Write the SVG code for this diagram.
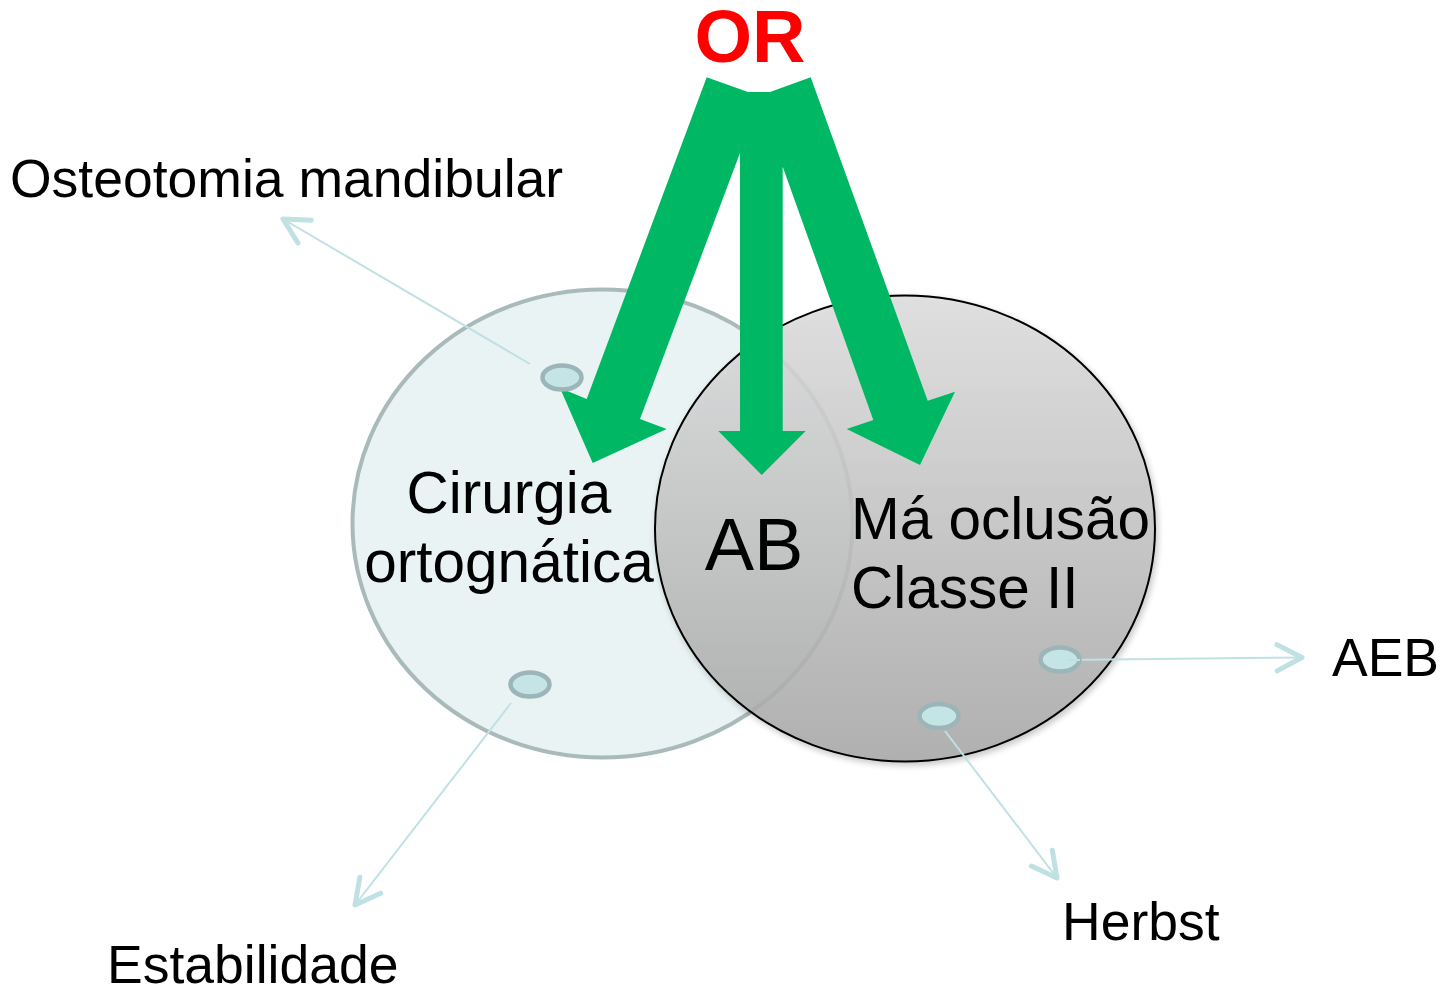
<svg xmlns="http://www.w3.org/2000/svg" width="1441" height="994" viewBox="0 0 1441 994">
  <style>
    .lbl { font-family: "Liberation Sans", Arial, sans-serif; fill: #000; }
    .side { font-size: 53.5px; }
    .main { font-size: 58.5px; }
    .dot { fill: #c5e4e6; stroke: #9bb5b8; stroke-width: 4.5; }
    .conn { fill: none; stroke: #bfe1e4; stroke-width: 2; marker-end: url(#chev); }
  </style>
  <defs>
    <linearGradient id="grayGrad" x1="0" y1="0" x2="0" y2="1">
      <stop offset="0" stop-color="#dedede"/>
      <stop offset="1" stop-color="#a8a8a8"/>
    </linearGradient>
    <filter id="shadow" x="-10%" y="-10%" width="120%" height="120%">
      <feGaussianBlur in="SourceAlpha" stdDeviation="3"/>
      <feOffset dx="2" dy="3" result="b"/>
      <feComponentTransfer><feFuncA type="linear" slope="0.25"/></feComponentTransfer>
      <feMerge><feMergeNode/><feMergeNode in="SourceGraphic"/></feMerge>
    </filter>
    <marker id="chev" markerUnits="userSpaceOnUse" markerWidth="40" markerHeight="40" viewBox="-24 -16 28 32" refX="0" refY="0" orient="auto">
      <path d="M-20,-10.5 L0,0 L-20,10.5" fill="none" stroke="#bfe1e4" stroke-width="4" stroke-linecap="round" stroke-linejoin="round"/>
    </marker>
  </defs>

  <g id="circle-cirurgia">
    <ellipse cx="602.5" cy="523.5" rx="250" ry="234" fill="#e9f3f4" stroke="#aab9ba" stroke-width="4"/>
  </g>
  <g id="circle-maoclusao" filter="url(#shadow)">
    <ellipse cx="905" cy="528.5" rx="250" ry="233" fill="url(#grayGrad)" fill-opacity="0.85" stroke="#000" stroke-width="2"/>
  </g>

  <g id="or-arrows">
    <polygon fill="#00b864" points="706.7,77.3 748,92 770,92 810.7,77.3 927.7,400.7 955,391.7 920,465 846.7,429 873.3,420 782.7,166.7 782.7,431 805.7,431 761.7,475 718.3,431 740,431 740,153 640,419 666.7,429 592.7,463 560,388 586.7,399"/>
  </g>

  <g id="connectors">
    <line class="conn" x1="530" y1="364" x2="283" y2="219"/>
    <line class="conn" x1="511" y1="703" x2="355" y2="905"/>
    <line class="conn" x1="1062" y1="660" x2="1302" y2="657.5"/>
    <line class="conn" x1="945" y1="731" x2="1057" y2="878"/>
  </g>

  <g id="dot-osteotomia"><ellipse class="dot" cx="562" cy="377.5" rx="19.5" ry="12"/></g>
  <g id="dot-estabilidade"><ellipse class="dot" cx="530" cy="684.5" rx="19.5" ry="12"/></g>
  <g id="dot-aeb"><ellipse class="dot" cx="1060" cy="659.5" rx="19.5" ry="12"/></g>
  <g id="dot-herbst"><ellipse class="dot" cx="939" cy="716" rx="19.5" ry="12"/></g>
  <g id="connector-overlay">
    <line x1="1068" y1="660" x2="1080" y2="660" stroke="#bfe1e4" stroke-width="2"/>
  </g>

  <g id="label-or">
    <text class="lbl" x="750" y="62" text-anchor="middle" font-size="74" font-weight="bold" style="fill:#ff0000">OR</text>
  </g>
  <g id="label-cirurgia">
    <text class="lbl main" x="509" y="513" text-anchor="middle">Cirurgia</text>
    <text class="lbl main" x="509" y="582" text-anchor="middle">ortognática</text>
  </g>
  <g id="label-ab">
    <text class="lbl" x="754" y="570" text-anchor="middle" font-size="74">AB</text>
  </g>
  <g id="label-maoclusao">
    <text class="lbl main" x="851" y="539">Má oclusão</text>
    <text class="lbl main" x="851" y="608">Classe II</text>
  </g>
  <g id="label-osteotomia">
    <text class="lbl side" x="10" y="197">Osteotomia mandibular</text>
  </g>
  <g id="label-estabilidade">
    <text class="lbl side" x="107" y="983">Estabilidade</text>
  </g>
  <g id="label-herbst">
    <text class="lbl side" x="1062" y="940">Herbst</text>
  </g>
  <g id="label-aeb">
    <text class="lbl side" x="1332" y="676">AEB</text>
  </g>
</svg>
